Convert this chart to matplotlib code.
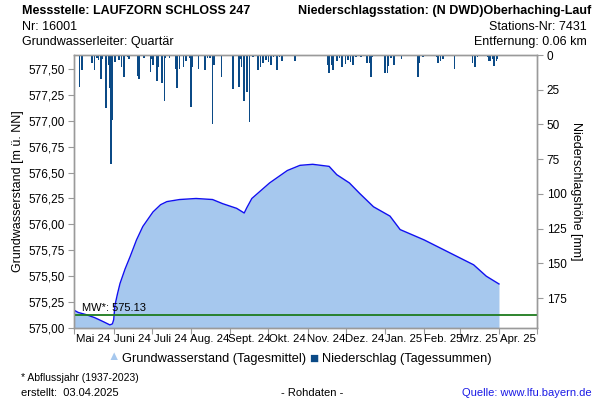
import numpy as np
import pandas as pd
import matplotlib
matplotlib.use("Agg")
import matplotlib.pyplot as plt
import matplotlib.dates as mdates
from matplotlib.ticker import FuncFormatter, FixedLocator

plt.rcParams['font.family'] = ['Liberation Sans', 'DejaVu Sans']

# groundwater level (daily mean)
gw_dates = ["2024-05-01", "2024-05-04", "2024-05-10", "2024-05-17", "2024-05-24",
            "2024-05-29", "2024-05-31", "2024-06-01", "2024-06-02", "2024-06-04",
            "2024-06-06", "2024-06-10", "2024-06-14",
            "2024-06-19", "2024-06-24", "2024-07-02", "2024-07-08", "2024-07-13", "2024-07-23",
            "2024-08-05", "2024-08-18", "2024-08-26", "2024-09-06", "2024-09-12",
            "2024-09-14", "2024-09-18", "2024-10-02", "2024-10-16", "2024-10-26",
            "2024-11-05", "2024-11-18", "2024-11-24", "2024-12-04", "2024-12-12",
            "2024-12-23", "2025-01-05", "2025-01-13", "2025-02-01", "2025-02-14",
            "2025-02-27", "2025-03-12", "2025-03-22", "2025-04-01"]
gw_level = [575.17, 575.15, 575.13, 575.10, 575.06,
            575.03, 575.04, 575.08, 575.22, 575.33,
            575.43, 575.57, 575.69,
            575.85, 575.98, 576.12, 576.19, 576.22, 576.24,
            576.25, 576.24, 576.20, 576.155, 576.11,
            576.16, 576.25, 576.40, 576.52, 576.57,
            576.58, 576.56, 576.48, 576.40, 576.30,
            576.17, 576.08, 575.95, 575.85, 575.77,
            575.69, 575.61, 575.50, 575.425]

# precipitation (daily sums, mm)
rain_dates = ["2024-05-02", "2024-05-05", "2024-05-07", "2024-05-15", "2024-05-17",
              "2024-05-19", "2024-05-20", "2024-05-22", "2024-05-23", "2024-05-26",
              "2024-05-28", "2024-05-29", "2024-05-30", "2024-05-31", "2024-06-02",
              "2024-06-05", "2024-06-07", "2024-06-09", "2024-06-12", "2024-06-13",
              "2024-06-20", "2024-06-21", "2024-06-25", "2024-06-30", "2024-07-01",
              "2024-07-02", "2024-07-05", "2024-07-06", "2024-07-09", "2024-07-11",
              "2024-07-12", "2024-07-15", "2024-07-20", "2024-07-21", "2024-07-23",
              "2024-07-26", "2024-07-28", "2024-07-31", "2024-08-01", "2024-08-02",
              "2024-08-07", "2024-08-12", "2024-08-14", "2024-08-16", "2024-08-18",
              "2024-08-19", "2024-08-25", "2024-09-03", "2024-09-08", "2024-09-09",
              "2024-09-10", "2024-09-12", "2024-09-14", "2024-09-16", "2024-09-19",
              "2024-09-23", "2024-09-25", "2024-09-27", "2024-09-29", "2024-10-01",
              "2024-10-03", "2024-10-05", "2024-10-08", "2024-10-10", "2024-10-12",
              "2024-10-17", "2024-10-22", "2024-11-13", "2024-11-17", "2024-11-18",
              "2024-11-20", "2024-11-21", "2024-11-24", "2024-11-26", "2024-11-28",
              "2024-12-01", "2024-12-03", "2024-12-05", "2024-12-07", "2024-12-09",
              "2024-12-13", "2024-12-18", "2024-12-20", "2024-12-21", "2024-12-22",
              "2025-01-01", "2025-01-03", "2025-01-04", "2025-01-06", "2025-01-08",
              "2025-01-14", "2025-01-27", "2025-01-28", "2025-01-31", "2025-02-11",
              "2025-02-12", "2025-02-14", "2025-02-16", "2025-02-25", "2025-02-27",
              "2025-03-11", "2025-03-13", "2025-03-15", "2025-03-23", "2025-03-24",
              "2025-03-25", "2025-03-27", "2025-03-28", "2025-03-30", "2025-03-31"]
rain_mm = [1, 23, 11, 5.5, 11,
           2, 3.6, 17, 3, 38,
           7, 24, 78.5, 47, 5,
           3.6, 8.4, 15.6, 1.5, 3,
           15, 17.5, 2, 12, 3,
           7, 18.7, 8.4, 20.4, 33,
           2, 2, 10, 24, 10,
           8.4, 4, 2, 37.7, 8.4,
           10, 10.5, 2, 2, 49.7,
           7, 15.6, 24.7, 23, 3,
           8.4, 33, 26.4, 48, 1.5,
           10.8, 8.4, 6, 3.6, 5,
           7, 1.5, 11, 1.5, 4,
           1, 4, 1, 7, 13,
           7, 10.5, 4, 2.5, 8.4,
           6.5, 3.5, 5, 7, 1.5,
           1.5, 6, 6, 15.6, 1.5,
           13, 13, 8, 2, 7.5,
           3, 15.6, 6, 1.5, 1.5,
           6, 4, 3, 10.3, 1,
           6, 9, 1.5, 1.5, 4.5,
           4.5, 3, 8, 4, 3]

month_labels = ["Mai 24", "Juni 24", "Juli 24", "Aug. 24", "Sept. 24", "Okt. 24",
                "Nov. 24", "Dez. 24", "Jan. 25", "Feb. 25", "Mrz. 25", "Apr. 25"]
mw_value = 575.13

gw_x = pd.to_datetime(gw_dates)
rain_x = pd.to_datetime(rain_dates)
month_starts = pd.date_range("2024-05-01", "2025-05-01", freq="MS")
month_mids = month_starts[:-1] + pd.Timedelta(days=15)

fill_col = "#A6C8EE"
line_col = "#1010F0"
rain_col = "#0B4A86"
grid_col = "#9A9A9A"

fig = plt.figure(figsize=(6, 4), dpi=100)
ax = fig.add_axes([0.124, 0.18, 0.771, 0.6825])

ax.fill_between(gw_x, 575.0, gw_level, color=fill_col, lw=0, zorder=1)
ax.plot(gw_x, gw_level, color=line_col, lw=1.0, zorder=3)
ax.axhline(mw_value, color="#1E7B1E", lw=1.3, zorder=4)
ax.text(mdates.date2num(pd.Timestamp("2024-05-07")), mw_value + 0.012, "MW*: 575.13",
        fontsize=8, va="bottom", ha="left", zorder=5)

ax.set_xlim(month_starts[0], month_starts[-1])
ax.set_ylim(575.0, 577.635)
ax.set_yticks(np.arange(575.0, 577.51, 0.25))
ax.yaxis.set_major_formatter(FuncFormatter(lambda v, p: f"{v:.2f}".replace(".", ",")))
ax.xaxis.set_major_locator(FixedLocator(mdates.date2num(month_starts)))
ax.xaxis.set_major_formatter(FuncFormatter(lambda v, p: ""))
ax.xaxis.set_minor_locator(FixedLocator(mdates.date2num(month_mids)))
ax.set_xticklabels(month_labels, minor=True)
ax.tick_params(axis="x", which="minor", length=0, labelsize=8.2, pad=4)
ax.tick_params(axis="x", which="major", length=4, color=grid_col)
ax.tick_params(axis="y", length=4, color=grid_col, labelsize=8.5, pad=3)
ax.set_ylabel("Grundwasserstand [m ü. NN]", fontsize=9, labelpad=3)
for s in ax.spines.values():
    s.set_color(grid_col)
    s.set_linewidth(1.0)

ax2 = ax.twinx()
ax2.bar(rain_x, rain_mm, width=1.2, color=rain_col, lw=0, zorder=2)
ax2.set_ylim(196.6, 0)
ax2.set_yticks(np.arange(0, 176, 25))
ax2.tick_params(axis="y", length=4, color=grid_col, labelsize=8.5, pad=3)
ax2.set_ylabel("Niederschlagshöhe [mm]", fontsize=9, rotation=-90, labelpad=11)
for s in ax2.spines.values():
    s.set_color(grid_col)
    s.set_linewidth(1.0)
ax2.set_xlim(month_starts[0], month_starts[-1])

# header
fig.text(22 / 600, 1 - 11 / 400, "Messstelle: LAUFZORN SCHLOSS 247", fontsize=9,
         fontweight="bold", va="center", ha="left")
fig.text(22 / 600, 1 - 27 / 400, "Nr: 16001", fontsize=9, va="center", ha="left")
fig.text(22 / 600, 1 - 42 / 400, "Grundwasserleiter: Quartär", fontsize=9,
         va="center", ha="left")
fig.text(591 / 600, 1 - 11 / 400, "Niederschlagsstation: (N DWD)Oberhaching-Lauf",
         fontsize=9, fontweight="bold", va="center", ha="right")
fig.text(587 / 600, 1 - 27 / 400, "Stations-Nr: 7431", fontsize=9,
         va="center", ha="right")
fig.text(587 / 600, 1 - 42 / 400, "Entfernung: 0.06 km", fontsize=9,
         va="center", ha="right")

# legend
ly = 1 - 359 / 400
fig.text(114 / 600, ly + 0.004, "\u25B2", color=fill_col, fontsize=9, va="center", ha="center")
fig.text(122 / 600, ly, "Grundwasserstand (Tagesmittel)", fontsize=9.2,
         va="center", ha="left")
fig.text(314 / 600, ly, "\u25A0", color=rain_col, fontsize=11, va="center", ha="center")
fig.text(322 / 600, ly, "Niederschlag (Tagessummen)", fontsize=9.2,
         va="center", ha="left")

# footer
fig.text(21 / 600, 1 - 378 / 400, "* Abflussjahr (1937-2023)", fontsize=7.5,
         va="center", ha="left")
fig.text(21 / 600, 1 - 393 / 400, "erstellt:  03.04.2025", fontsize=8,
         va="center", ha="left")
fig.text(312 / 600, 1 - 393 / 400, "- Rohdaten -", fontsize=8,
         va="center", ha="center")
fig.text(592 / 600, 1 - 393 / 400, "Quelle: www.lfu.bayern.de", fontsize=8,
         color="#1A1AE6", va="center", ha="right")

fig.savefig("out.png", dpi=100)
